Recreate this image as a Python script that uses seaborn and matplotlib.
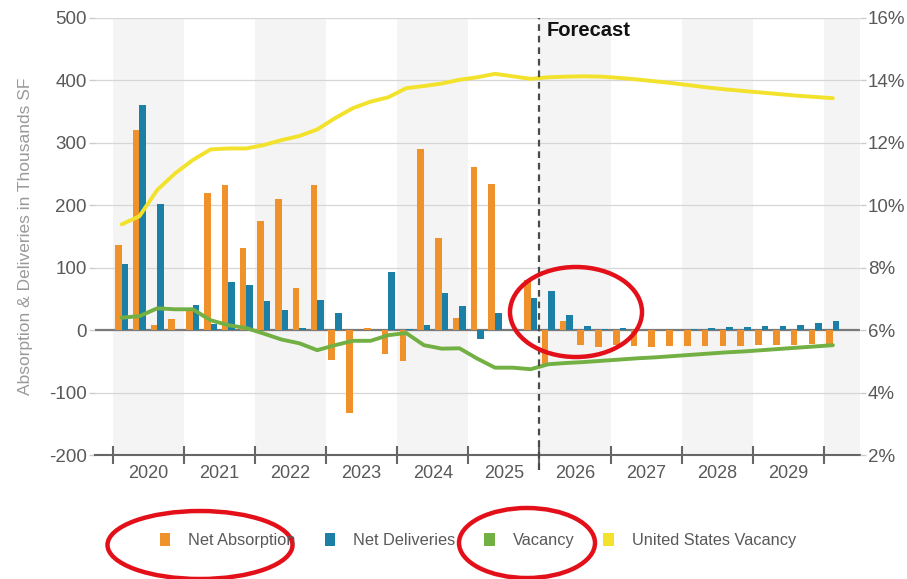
import numpy as np
import pandas as pd
import matplotlib
matplotlib.use("Agg")
import matplotlib.pyplot as plt
import matplotlib.transforms as mtransforms
from matplotlib.patches import Patch, Ellipse
import seaborn as sns

# quarterly data, 2020 Q1 .. 2030 Q1
years = [2020, 2021, 2022, 2023, 2024, 2025, 2026, 2027, 2028, 2029]
quarters = [f"{y} Q{q}" for y in years for q in range(1, 5)] + ["2030 Q1"]

net_absorption = [137, 320, 9, 18,
                  32, 220, 233, 132,
                  175, 210, 67, 232,
                  -48, -132, 4, -38,
                  -50, 290, 147, 20,
                  262, 234, 0, 80,
                  -55, 14, -24, -27,
                  -24, -25, -27, -26,
                  -25, -25, -25, -25,
                  -24, -24, -23, -22,
                  -22]
net_deliveries = [106, 360, 202, 0,
                  40, 10, 77, 73,
                  47, 32, 3, 48,
                  28, 1, 1, 93,
                  2, 9, 59, 38,
                  -14, 28, 0, 51,
                  63, 24, 6, 2,
                  4, 1, 0, 0,
                  2, 4, 5, 5,
                  6, 7, 8, 11,
                  14]
vacancy = [6.40, 6.45, 6.70, 6.67,
           6.67, 6.32, 6.16, 6.07,
           5.89, 5.70, 5.58, 5.36,
           5.52, 5.66, 5.66, 5.84,
           5.91, 5.52, 5.41, 5.42,
           5.09, 4.80, 4.80, 4.75,
           4.91, 4.95, 4.98, 5.02,
           5.06, 5.10, 5.13, 5.17,
           5.21, 5.25, 5.29, 5.32,
           5.36, 5.40, 5.44, 5.48,
           5.52]
us_vacancy = [9.39, 9.65, 10.49, 11.02,
              11.45, 11.79, 11.82, 11.82,
              11.93, 12.09, 12.22, 12.43,
              12.79, 13.11, 13.32, 13.46,
              13.75, 13.82, 13.90, 14.02,
              14.10, 14.21, 14.13, 14.05,
              14.10, 14.12, 14.13, 14.12,
              14.08, 14.03, 13.97, 13.91,
              13.84, 13.77, 13.71, 13.66,
              13.61, 13.56, 13.51, 13.47,
              13.43]
left_ticks = [-200, -100, 0, 100, 200, 300, 400, 500]
right_ticks = [2, 4, 6, 8, 10, 12, 14, 16]
forecast_start = "2026 Q1"

orange = "#F0922B"
blue = "#1C7FA6"
green = "#72B043"
yellow = "#F2E22C"
txt = "#595959"

sns.set_style("white")
plt.rcParams["font.family"] = ["Liberation Sans", "DejaVu Sans"]
plt.rcParams["axes.unicode_minus"] = False

fig = plt.figure(figsize=(9.07, 5.79), dpi=100)
ax = fig.add_axes([0.1047, 0.214, 0.843, 0.755])

# alternating year shading
for i, y in enumerate(years + [2030]):
    if i % 2 == 0:
        ax.axvspan(4 * i - 0.5, 4 * i + 3.5, color="#f4f4f4", zorder=0, lw=0)

df = pd.DataFrame({
    "quarter": quarters * 2,
    "value": net_absorption + net_deliveries,
    "series": ["Net Absorption"] * len(quarters) + ["Net Deliveries"] * len(quarters),
})
sns.barplot(data=df, x="quarter", y="value", hue="series", order=quarters,
            hue_order=["Net Absorption", "Net Deliveries"], palette=[orange, blue],
            width=0.74, saturation=1, errorbar=None, legend=False, ax=ax, zorder=2,
            linewidth=0, edgecolor="none")

ax.set_axisbelow(True)
ax.yaxis.grid(True, color="#d6d6d6", lw=0.9)
ax.axhline(0, color="#7a7a7a", lw=1.6, zorder=1.5)
ax.set_ylim(-200, 500)
ax.set_yticks(left_ticks)
ax.set_xlim(-1.5, 41.5)
for s in ["top", "left", "right"]:
    ax.spines[s].set_visible(False)
ax.spines["bottom"].set_color("#666666")
ax.spines["bottom"].set_linewidth(1.5)

# year labels at year centres, quarter ticks at boundaries
ax.set_xticks([4 * i + 1.5 for i in range(len(years))], [str(y) for y in years])
ax.set_xticks(np.arange(-1.5, 42, 1), minor=True)
ax.tick_params(axis="x", which="major", length=0, pad=7, labelsize=13, labelcolor=txt)
ax.tick_params(axis="x", which="minor", direction="in", length=5, width=1, color="#666666")
ax.tick_params(axis="y", length=4, width=1, color="#cccccc", pad=2, labelsize=13.5, labelcolor=txt)
ax.set_xlabel("")
ax.set_ylabel("Absorption & Deliveries in Thousands SF", fontsize=12.5, color="#9a9a9a", labelpad=11)

sec = ax.secondary_xaxis("bottom")
sec.set_xticks([4 * i - 0.5 for i in range(len(years) + 1)])
sec.tick_params(direction="inout", length=13, width=1.5, color="#666666", labelbottom=False)
sec.spines["bottom"].set_visible(False)

# vacancy lines on right axis
ax2 = ax.twinx()
x_idx = np.arange(len(quarters))
sns.lineplot(x=x_idx, y=us_vacancy, ax=ax2, color=yellow, lw=2.8)
sns.lineplot(x=x_idx, y=vacancy, ax=ax2, color=green, lw=2.8)
ax2.set_ylim(2, 16)
ax2.set_yticks(right_ticks, [f"{t}%" for t in right_ticks])
ax2.tick_params(axis="y", length=4, width=1, color="#cccccc", pad=2, labelsize=13.5, labelcolor=txt)
for s in ax2.spines.values():
    s.set_visible(False)
ax2.grid(False)
ax2.set_xlim(-1.5, 41.5)

# forecast divider
fx = quarters.index(forecast_start) - 0.5
ax2.axvline(fx, color="#4a4a4a", lw=1.6, ls=(0, (3, 2.2)), ymin=-0.035, clip_on=False, zorder=5)
trans = mtransforms.blended_transform_factory(ax.transData, ax.transAxes)
ax.text(fx + 0.4, 0.972, "Forecast", transform=trans, ha="left", va="center",
        fontsize=14.5, fontweight="bold", color="#111111")

handles = [Patch(facecolor=c, edgecolor="none", label=l) for c, l in
           [(orange, "Net Absorption"), (blue, "Net Deliveries"),
            (green, "Vacancy"), (yellow, "United States Vacancy")]]
leg = fig.legend(handles=handles, loc="center", bbox_to_anchor=(0.527, 0.067), ncol=4,
                 frameon=False, fontsize=11.8, handlelength=0.65, handleheight=0.85,
                 handletextpad=1.1, columnspacing=1.75)
for t in leg.get_texts():
    t.set_color(txt)

# red highlight ellipses (pixel positions from top-left)
def ring(cx, cy, w, h):
    e = Ellipse(((cx) / 100, (579 - cy) / 100), w / 100, h / 100,
                transform=fig.dpi_scale_trans, fill=False, edgecolor="#e3101a", lw=3.2)
    fig.add_artist(e)

ring(200, 545, 185, 68)
ring(527, 543, 136, 70)
ring(576, 312, 132, 90)

fig.savefig("out.png", dpi=100)
